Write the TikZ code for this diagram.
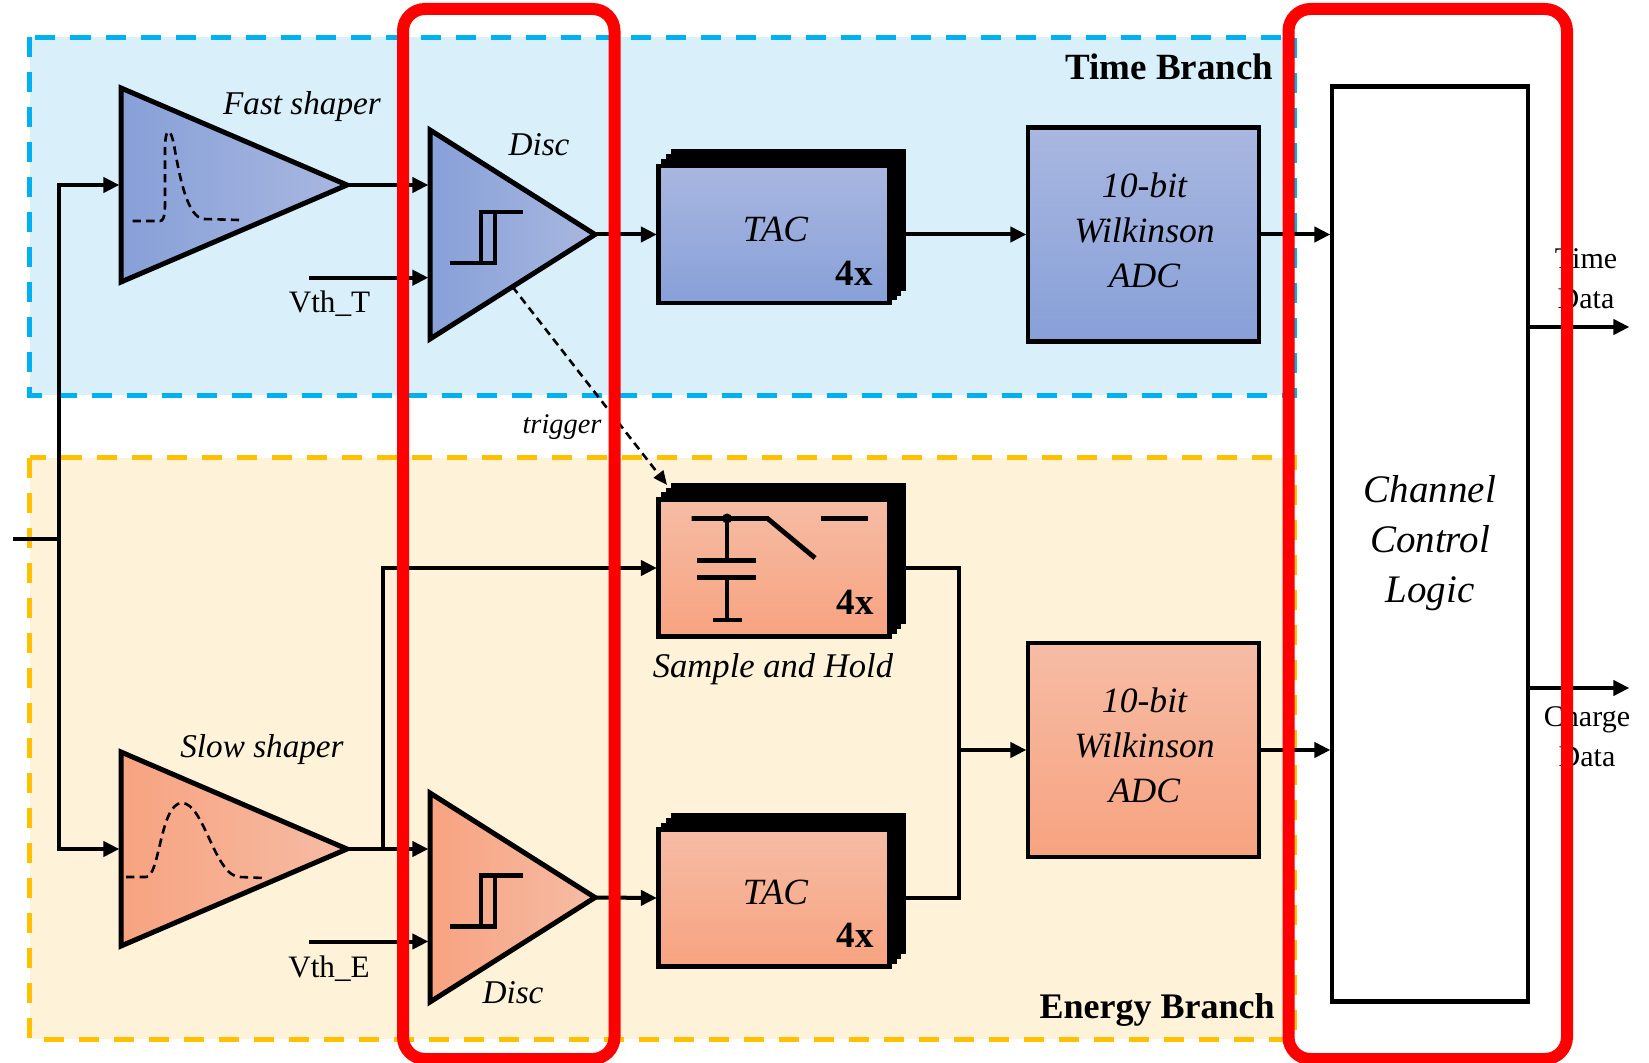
\documentclass[tikz,border=0pt]{standalone}
\usepackage{fontspec}
\setmainfont{Liberation Serif}
\usepackage{xcolor}
\usetikzlibrary{arrows.meta,shapes.geometric,shadows,calc}
\definecolor{mcyan}{HTML}{00B0F0}
\definecolor{mamber}{HTML}{FFC000}
\definecolor{mpale}{HTML}{D9F0FB}
\definecolor{mcream}{HTML}{FEF2D9}
\definecolor{mbluedark}{HTML}{87A0D8}
\definecolor{mbluelight}{HTML}{A9B7E0}
\definecolor{morangedark}{HTML}{F7A380}
\definecolor{morangelight}{HTML}{F6BCA5}
\tikzstyle{wire}=[line width=2pt, -{Triangle[length=8pt,width=7.5pt]}, shorten >=0.8pt]
\tikzstyle{plain}=[line width=2pt]
\tikzstyle{sym}=[line width=2.4pt]
\tikzstyle{pulse}=[line width=1.3pt, dash pattern=on 4.2pt off 2.6pt]
\tikzstyle{branch}=[line width=2.5pt, dash pattern=on 10pt off 7.5pt]
\tikzstyle{focus}=[line width=6pt, draw=red, rounded corners=11pt]
\tikzstyle{amp}=[shape=isosceles triangle, isosceles triangle stretches, draw=black, line width=2.5pt, inner sep=0pt, outer sep=0pt, anchor=lower side]
\tikzstyle{tall}=[minimum height=82.5pt, minimum width=104.5pt]
\tikzstyle{short}=[minimum height=113pt, minimum width=97pt]
\tikzstyle{blueh}=[left color=mbluedark, right color=mbluelight]
\tikzstyle{orangeh}=[left color=morangedark, right color=morangelight]
\tikzstyle{bluev}=[top color=mbluelight, bottom color=mbluedark]
\tikzstyle{orangev}=[top color=morangelight, bottom color=morangedark]
\tikzstyle{box}=[draw=black, line width=2.2pt, inner sep=0pt, outer sep=0pt]
\tikzstyle{stack}=[box, minimum width=115.5pt, minimum height=68.5pt,
    copy shadow={shadow xshift=2.4pt, shadow yshift=2.4pt, fill=black, draw=black, opacity=1},
    copy shadow={shadow xshift=4.8pt, shadow yshift=4.8pt, fill=black, draw=black, opacity=1},
    copy shadow={shadow xshift=7.2pt, shadow yshift=7.2pt, fill=black, draw=black, opacity=1}]
\tikzstyle{adc}=[box, minimum width=115.5pt, minimum height=107pt]
\tikzstyle{ital}=[font=\fontsize{16.6}{22.5}\selectfont\itshape, align=center, inner sep=0pt]
\tikzstyle{rom}=[font=\fontsize{15}{20}\selectfont, align=center, inner sep=0pt]
\tikzstyle{heavy}=[font=\fontsize{18.5}{22}\selectfont\bfseries, inner sep=0pt]

\begin{document}
\begin{tikzpicture}[x=0.5pt, y=-0.5pt]
    \useasboundingbox (0,0) rectangle (1649,1063);

    \draw[branch, draw=mcyan, fill=mpale] (29.5,37.5) rectangle (1294.5,395.5);
    \draw[branch, draw=mamber, fill=mcream] (29.5,458) rectangle (1294.5,1039);

    \node[amp, short, blueh] (fast_t) at (121,185) {};
    \node[amp, tall, blueh] (disc_t) at (430,234.5) {};
    \node[amp, short, orangeh] (slow_e) at (121,849) {};
    \node[amp, tall, orangeh] (disc_e) at (430,897.5) {};

    \node[stack, bluev] (tac_t) at (774,234.5) {};
    \node[stack, orangev] (sh_e) at (774,568) {};
    \node[stack, orangev] (tac_e) at (774,898) {};
    \node[adc, bluev] (adc_t) at (1143.5,234.5) {};
    \node[adc, orangev] (adc_e) at (1143.5,750) {};
    \node[box, fill=white, minimum width=98pt, minimum height=457.5pt] (logic) at (1430,544) {};

    \coordinate (in) at (13,539);
    \coordinate (split) at (59,539);
    \coordinate (vth_t) at (309,277.7);
    \coordinate (vth_e) at (309,941.5);
    \coordinate (tap) at (382.6,849);
    \coordinate (merge) at (959,750);
    \coordinate (trig) at ($(disc_t.apex)!0.5!(disc_t.right corner)$);
    \coordinate (time_out) at (1631,327);
    \coordinate (charge_out) at (1631,688);

    \draw[plain] (in) -- (split);
    \draw[wire] (split) |- (fast_t.lower side);
    \draw[wire] (split) |- (slow_e.lower side);
    \draw[wire] (fast_t.apex) -- (fast_t.apex -| disc_t.lower side);
    \draw[wire] (vth_t) -- (vth_t -| disc_t.lower side);
    \draw[wire] (disc_t.apex) -- (tac_t.west);
    \draw[wire] (tac_t.east) -- (adc_t.west);
    \draw[wire] (adc_t.east) -- (adc_t.east -| logic.west);
    \draw[wire] (slow_e.apex) -- (slow_e.apex -| disc_e.lower side);
    \draw[wire] (vth_e) -- (vth_e -| disc_e.lower side);
    \draw[wire] (tap) |- (sh_e.west);
    \draw[wire] (disc_e.apex) -- (tac_e.west);
    \draw[plain] (sh_e.east) -| (merge);
    \draw[plain] (tac_e.east) -| (merge);
    \draw[wire] (merge) -- (adc_e.west);
    \draw[wire] (adc_e.east) -- (adc_e.east -| logic.west);
    \draw[wire] (logic.east |- time_out) -- (time_out);
    \draw[wire] (logic.east |- charge_out) -- (charge_out);
    \draw[line width=1.3pt, dash pattern=on 4pt off 2.6pt, -{Triangle[length=7pt,width=6pt]}] (trig) -- (667,485);

    \draw[pulse] (132.5,221) -- (160,221) .. controls (166,221) and (165,205) .. (165,190) -- (165,150) .. controls (165,128) and (170,125) .. (174,145) .. controls (180,180) and (188,218) .. (204,219) -- (239,220);
    \draw[pulse] (126,877) -- (146,877) .. controls (160,877) and (160,803) .. (182,803) .. controls (204,803) and (215,877) .. (240,877) -- (263,878);

    \draw[sym] (450,263) -- (495,263) -- (495,212);
    \draw[sym] (481,263) -- (481,212) -- (523,212);
    \draw[sym] (450,926.5) -- (495,926.5) -- (495,875.5);
    \draw[sym] (481,926.5) -- (481,875.5) -- (523,875.5);

    \draw[sym] (691.5,518.5) -- (767.5,518.5) -- (815,558);
    \draw[sym] (820.5,518.5) -- (868,518.5);
    \fill (727,518.5) circle (5);
    \draw[sym] (727,518.5) -- (727,560.5);
    \draw[sym] (697,560.5) -- (755.5,560.5);
    \draw[sym] (697,577.5) -- (755.5,577.5);
    \draw[sym] (727,577.5) -- (727,620);
    \draw[sym] (713,620) -- (742,620);

    \node[ital] (lab_fast) at (302,107) {Fast shaper};
    \node[ital] (lab_disc_t) at (539,145) {Disc};
    \node[ital] (lab_slow) at (262,750) {Slow shaper};
    \node[ital] (lab_disc_e) at (513,993) {Disc};
    \node[ital, font=\fontsize{17.3}{22}\selectfont\itshape] (lab_sh) at (773,669) {Sample and Hold};
    \node[ital, font=\fontsize{14.2}{18}\selectfont\itshape] (lab_trig) at (562,427) {trigger};
    \node[rom, font=\fontsize{15.6}{20}\selectfont] (lab_vth_t) at (329.5,304) {Vth\_T};
    \node[rom, font=\fontsize{15.6}{20}\selectfont] (lab_vth_e) at (329,969) {Vth\_E};
    \node[rom] (lab_time) at (1586,279) {Time\\Data};
    \node[rom] (lab_charge) at (1587,736) {Charge\\Data};
    \node[ital, font=\fontsize{18.5}{22}\selectfont\itshape] (lab_tac_t) at (775.5,229) {TAC};
    \node[ital, font=\fontsize{18.5}{22}\selectfont\itshape] (lab_tac_e) at (775.5,892) {TAC};
    \node[heavy] (n_tac_t) at (854,273) {4x};
    \node[heavy] (n_sh) at (855,602) {4x};
    \node[heavy] (n_tac_e) at (855,935.5) {4x};
    \node[ital, font=\fontsize{17.8}{22.5}\selectfont\itshape] (lab_adc_t) at (1144.5,230) {10-bit\\Wilkinson\\ADC};
    \node[ital, font=\fontsize{17.8}{22.5}\selectfont\itshape] (lab_adc_e) at (1144.5,745) {10-bit\\Wilkinson\\ADC};
    \node[ital, font=\fontsize{19.5}{25}\selectfont\itshape] (lab_logic) at (1430,543.5) {Channel\\Control\\Logic};
    \node[heavy] (lab_time_branch) at (1169.5,67) {Time Branch};
    \node[heavy, font=\fontsize{18}{22}\selectfont\bfseries] (lab_energy_branch) at (1157,1010) {Energy Branch};

    \draw[focus] (403,9) rectangle (614.5,1059);
    \draw[focus] (1288.5,9) rectangle (1567,1059);
\end{tikzpicture}
\end{document}
